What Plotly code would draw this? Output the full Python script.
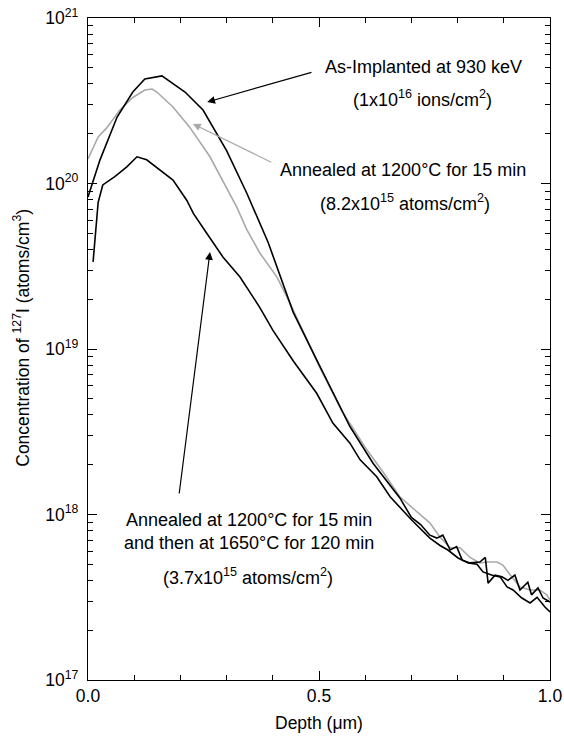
import plotly.graph_objects as go

# ---- data ----
depth_implanted = [0.0, 0.026, 0.063, 0.097, 0.123, 0.16, 0.21, 0.249, 0.30, 0.344, 0.39, 0.444,
                   0.495, 0.567, 0.617, 0.675, 0.70, 0.72, 0.74, 0.755, 0.768, 0.784, 0.798, 0.81,
                   0.827, 0.848, 0.86, 0.866, 0.881, 0.896, 0.909, 0.924, 0.935, 0.952, 0.96,
                   0.974, 0.985, 1.0]
conc_implanted = [8.3e19, 1.39e20, 2.52e20, 3.57e20, 4.28e20, 4.47e20, 3.57e20, 2.78e20, 1.58e20,
                  8.7e19, 4.4e19, 1.67e19, 8.6e18, 3.4e18, 2.04e18, 1.26e18, 9.6e17, 8.7e17,
                  7.5e17, 7.2e17, 7.5e17, 6.1e17, 6.4e17, 5.3e17, 5.1e17, 5.16e17, 5.5e17,
                  3.85e17, 4.3e17, 4.2e17, 4.0e17, 4.3e17, 3.5e17, 3.9e17, 3.27e17, 3.6e17,
                  3.13e17, 2.96e17]

depth_1200 = [0.0, 0.022, 0.04, 0.069, 0.097, 0.123, 0.139, 0.149, 0.184, 0.22, 0.264, 0.30,
              0.322, 0.344, 0.372, 0.409, 0.437, 0.47, 0.50, 0.55, 0.604, 0.64, 0.675, 0.71,
              0.74, 0.762, 0.784, 0.805, 0.827, 0.848, 0.866, 0.885, 0.898, 0.918, 0.935,
              0.957, 0.978, 0.993, 1.0]
conc_1200 = [1.41e20, 1.91e20, 2.16e20, 2.78e20, 3.31e20, 3.67e20, 3.72e20, 3.57e20, 2.90e20,
             2.19e20, 1.45e20, 9.5e19, 7.2e19, 5.25e19, 3.8e19, 2.72e19, 1.9e19, 1.2e19,
             7.9e18, 4.2e18, 2.45e18, 1.78e18, 1.28e18, 1.05e18, 8.9e17, 7.3e17, 6.3e17,
             6.3e17, 5.5e17, 5.1e17, 5.16e17, 5.16e17, 4.95e17, 4.17e17, 3.65e17, 3.5e17,
             3.5e17, 3.27e17, 3.04e17]

depth_1650 = [0.011, 0.022, 0.032, 0.058, 0.084, 0.106, 0.127, 0.156, 0.184, 0.214, 0.228,
              0.257, 0.292, 0.329, 0.351, 0.372, 0.40, 0.444, 0.495, 0.53, 0.567, 0.589, 0.625,
              0.654, 0.70, 0.74, 0.762, 0.779, 0.801, 0.823, 0.842, 0.855, 0.875, 0.892, 0.907,
              0.920, 0.939, 0.957, 0.972, 0.989, 1.0]
conc_1650 = [3.36e19, 7.7e19, 9.8e19, 1.10e20, 1.26e20, 1.45e20, 1.39e20, 1.2e20, 1.05e20,
             7.9e19, 6.6e19, 5.0e19, 3.6e19, 2.72e19, 2.2e19, 1.78e19, 1.3e19, 8.5e18, 5.4e18,
             3.57e18, 2.7e18, 2.14e18, 1.69e18, 1.28e18, 9.3e17, 7.2e17, 6.5e17, 6.1e17,
             5.46e17, 5.1e17, 5.0e17, 4.5e17, 4.3e17, 4.2e17, 3.65e17, 3.5e17, 3.13e17,
             2.92e17, 3.16e17, 2.76e17, 2.58e17]

x_tick_vals = [0.0, 0.5, 1.0]
x_tick_text = ["0.0", "0.5", "1.0"]
x_minor_vals = [0.1, 0.2, 0.3, 0.4, 0.6, 0.7, 0.8, 0.9]
y_decades = [17, 18, 19, 20, 21]
y_tick_text = ["10<sup>%d</sup>" % e for e in y_decades]

FONT = "Liberation Sans, Arial, Helvetica, sans-serif"
GRAY = "#a9a9a9"

fig = go.Figure()
fig.add_trace(go.Scatter(x=depth_1200, y=conc_1200, mode="lines",
                         line=dict(color=GRAY, width=1.6), showlegend=False))
fig.add_trace(go.Scatter(x=depth_1650, y=conc_1650, mode="lines",
                         line=dict(color="black", width=1.6), showlegend=False))
fig.add_trace(go.Scatter(x=depth_implanted, y=conc_implanted, mode="lines",
                         line=dict(color="black", width=1.6), showlegend=False))

y_tick_vals = [10.0 ** e for e in y_decades]
y_minor_vals = [m * 10.0 ** e for e in y_decades[:-1] for m in range(2, 10)]

fig.update_xaxes(range=[0, 1], showline=True, linecolor="black", linewidth=1.3,
                 mirror="ticks", ticks="inside", ticklen=9, tickwidth=1.2, tickcolor="black",
                 tickvals=x_tick_vals, ticktext=x_tick_text, showgrid=False, zeroline=False,
                 automargin=False, ticklabeloverflow="allow",
                 tickfont=dict(family=FONT, size=17.5, color="black"),
                 minor=dict(tickvals=x_minor_vals, ticks="inside", ticklen=5,
                            tickwidth=1.2, tickcolor="black", showgrid=False))
fig.update_yaxes(type="log", range=[17, 21], showline=True, linecolor="black", linewidth=1.3,
                 mirror="ticks", ticks="inside", ticklen=9, tickwidth=1.2, tickcolor="black",
                 tickvals=y_tick_vals, ticktext=y_tick_text, showgrid=False, zeroline=False,
                 automargin=False, ticklabeloverflow="allow",
                 tickfont=dict(family=FONT, size=17.5, color="black"), ticklabelstandoff=5,
                 minor=dict(tickvals=y_minor_vals, ticks="inside", ticklen=5,
                            tickwidth=1.2, tickcolor="black", showgrid=False))

txt = dict(family=FONT, size=18, color="black")
annos = [
    # text labels (paper coords)
    dict(x=0.727, y=0.926, text="As-Implanted at 930 keV"),
    dict(x=0.725, y=0.879, text="(1x10<sup>16</sup> ions/cm<sup>2</sup>)"),
    dict(x=0.682, y=0.770, text="Annealed at 1200°C for 15 min"),
    dict(x=0.686, y=0.722, text="(8.2x10<sup>15</sup> atoms/cm<sup>2</sup>)"),
    dict(x=0.348, y=0.242, text="Annealed at 1200°C for 15 min"),
    dict(x=0.348, y=0.207, text="and then at 1650°C for 120 min"),
    dict(x=0.346, y=0.156, text="(3.7x10<sup>15</sup> atoms/cm<sup>2</sup>)"),
]
for a in annos:
    fig.add_annotation(xref="paper", yref="paper", showarrow=False, xanchor="center",
                       yanchor="middle", font=txt, **a)

# arrows (data coords; log axis uses log10 values)
arrows = [
    dict(x=0.258, y=20.492, ax=0.487, ay=20.674, arrowcolor="black"),
    dict(x=0.227, y=20.36, ax=0.40, ay=20.124, arrowcolor=GRAY),
    dict(x=0.264, y=19.586, ax=0.197, ay=18.118, arrowcolor="black"),
]
for a in arrows:
    fig.add_annotation(xref="x", yref="y", axref="x", ayref="y", text="", showarrow=True,
                       arrowhead=2, arrowsize=1.3, arrowwidth=1.2, **a)

# axis titles
tfont = dict(family=FONT, size=17.5, color="black")
fig.add_annotation(xref="paper", yref="paper", x=0.5, y=-0.065, showarrow=False,
                   text="Depth (μm)", font=tfont, xanchor="center", yanchor="middle")
fig.add_annotation(xref="paper", yref="paper", x=-0.145, y=0.517, showarrow=False,
                   text="Concentration of <sup>127</sup>I (atoms/cm<sup>3</sup>)", font=tfont,
                   textangle=-90, xanchor="center", yanchor="middle")

fig.update_layout(width=564, height=737, margin=dict(l=88, r=14, t=18, b=57, autoexpand=False),
                  plot_bgcolor="white", paper_bgcolor="white", showlegend=False)

# remove the default 8px page margin so the figure fills the window exactly
fig.write_html("out.html", config={"displayModeBar": False},
               post_script="document.body.style.margin='0';document.body.style.overflow='hidden';")
